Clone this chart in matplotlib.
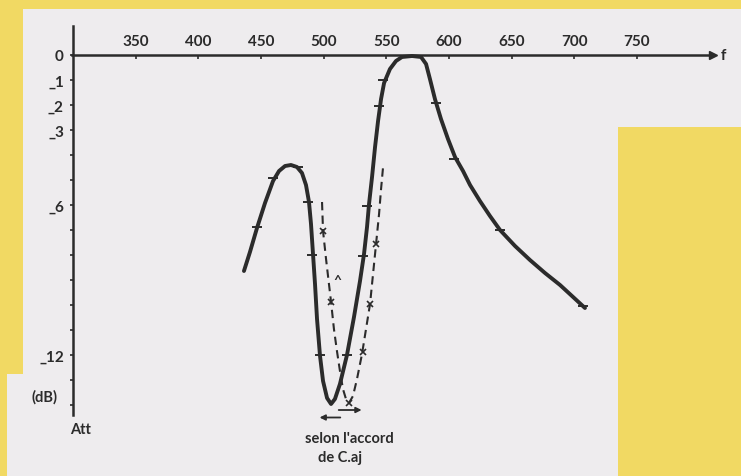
import numpy as np
import matplotlib
matplotlib.use("Agg")
import matplotlib.pyplot as plt
from matplotlib.patches import Polygon

plt.rcParams['font.family'] = ['Lato', 'DejaVu Sans']
plt.rcParams['font.weight'] = 'bold'

# solid curve (frequency, attenuation in dB)
freq_solid = [436.4, 441.2, 446.8, 453.2, 459.6, 464.4, 469.2, 473.9, 478.7, 482.7,
              485.9, 488.3, 489.9, 491.5, 493.1, 494.7, 497.1, 499.5, 502.7, 505.9,
              509.0, 513.0, 518.6, 524.2, 529.0, 532.2, 534.6, 536.2, 538.6, 541.0,
              543.4, 545.8, 548.2, 552.9, 557.7, 562.5, 570.5, 577.7, 581.7, 584.8,
              588.8, 593.6, 599.2, 604.8, 611.2, 616.8, 624.7, 632.7, 640.7, 652.7,
              664.6, 676.6, 688.6, 699.0, 708.5]
att_solid = [-8.64, -7.88, -6.92, -5.92, -5.04, -4.64, -4.44, -4.40, -4.48, -4.72,
             -5.20, -5.88, -6.76, -7.96, -9.16, -10.56, -12.04, -13.04, -13.72, -13.96,
             -13.76, -13.16, -12.00, -10.48, -9.04, -7.96, -6.88, -5.96, -4.88, -3.68,
             -2.64, -1.76, -1.12, -0.56, -0.24, -0.08, -0.04, -0.08, -0.36, -0.96,
             -1.76, -2.56, -3.36, -4.08, -4.64, -5.20, -5.84, -6.44, -7.00, -7.64,
             -8.20, -8.72, -9.20, -9.68, -10.12]
# measured points on the solid curve
freq_solid_pts = [446.8, 459.6, 479.5, 487.5, 490.7, 497.1, 518.6, 531.4, 534.6,
                  544.2, 547.4, 589.6, 604.0, 640.7, 706.9]
att_solid_pts = [-6.88, -4.92, -4.48, -5.88, -8.0, -12.0, -12.0, -8.04, -6.04,
                 -2.04, -1.0, -1.92, -4.16, -7.0, -10.04]

# dashed curve (other setting of C.aj)
freq_dash = [498.7, 499.5, 501.9, 505.9, 508.2, 510.6, 513.0, 515.4, 517.8, 520.2,
             523.4, 526.6, 530.6, 533.8, 537.0, 539.4, 541.8, 544.2, 545.8, 547.4]
att_dash = [-5.88, -7.04, -8.16, -9.88, -10.96, -11.84, -12.64, -13.36, -13.76, -13.92,
            -13.64, -12.96, -11.96, -10.96, -9.96, -8.76, -7.56, -6.36, -5.36, -4.48]
freq_dash_pts = [499.5, 505.9, 520.2, 531.4, 537.0, 541.8]
att_dash_pts = [-7.04, -9.88, -13.92, -11.88, -9.96, -7.56]

x_ticks = [350, 400, 450, 500, 550, 600, 650, 700, 750]
y_ticks = list(range(0, -15, -1))
y_labels = {0: "0", -1: "_1", -2: "_2", -3: "_3", -6: "_6", -12: "_12"}

W, H = 741, 477
ink = "#2b2b2b"
yellow = "#F1D963"
paper = "#EEECEE"

fig = plt.figure(figsize=(W / 100, H / 100), dpi=100, facecolor=yellow)
ax = fig.add_axes([0, 0, 1, 1])
ax.patch.set_visible(False)

# px -> data mapping: f=300 at x=73px, 1.2533 px per Hz; 0 dB at y=56px, 25 px per dB
ax.set_xlim(300 - 73 / 1.2533, 300 + (W - 73) / 1.2533)
ax.set_ylim(-(H - 56) / 25, 56 / 25)

# white paper sheet
sheet = [(23, 10), (741, 10), (741, 128), (618, 128), (618, 477), (7, 477), (7, 375), (23, 375)]
ax.add_patch(Polygon([(x / W, 1 - y / H) for x, y in sheet], closed=True,
                     transform=ax.transAxes, facecolor=paper, edgecolor="none",
                     zorder=0, clip_on=False))

# axes lines
for s in ["bottom", "right"]:
    ax.spines[s].set_visible(False)
ax.spines["top"].set_position(("data", 0))
ax.spines["top"].set_bounds(299, 808)
ax.spines["left"].set_position(("data", 300))
ax.spines["left"].set_bounds(-14.4, 1.15)
for s in ["top", "left"]:
    ax.spines[s].set_color(ink)
    ax.spines[s].set_linewidth(1.8)
ax.plot([811], [0], marker=">", ms=6, color=ink, clip_on=False)

ax.xaxis.tick_top()
ax.set_xticks(x_ticks)
ax.set_xticklabels([str(v) for v in x_ticks])
ax.tick_params(axis="x", direction="in", length=3, width=1.2, pad=5,
               labelsize=11, colors=ink)
ax.set_yticks(y_ticks)
ax.set_yticklabels([y_labels.get(v, "") for v in y_ticks])
ax.tick_params(axis="y", direction="out", length=2.5, width=1.2, pad=4,
               labelsize=11, colors=ink)

# curves
ax.plot(freq_solid, att_solid, color=ink, lw=2.8, solid_capstyle="round",
        solid_joinstyle="round", zorder=3)
ax.plot(freq_solid_pts, att_solid_pts, ls="none", marker="_", ms=7, mew=1.4,
        color=ink, zorder=4)
ax.plot(freq_dash, att_dash, color=ink, lw=1.5, ls=(0, (4, 2.5)), zorder=3)
ax.plot(freq_dash_pts, att_dash_pts, ls="none", marker="x", ms=4, mew=1.2,
        color=ink, zorder=4)
# small hook mark between the branches
ax.text(510.6, -9.0, "^", fontsize=10, color=ink, ha="center", va="center")

# shift arrows
ax.annotate("", xy=(494.5, -14.5), xytext=(515.5, -14.5),
            arrowprops=dict(arrowstyle="-|>", color=ink, lw=1.3, mutation_scale=8))
ax.annotate("", xy=(532.5, -14.2), xytext=(509.8, -14.2),
            arrowprops=dict(arrowstyle="-|>", color=ink, lw=1.3, mutation_scale=8))

ax.text(305 / W, 1 - 439 / H, "selon l'accord", transform=ax.transAxes,
        fontsize=10.5, color=ink, ha="left", va="center")
ax.text(318 / W, 1 - 458 / H, "de C.aj", transform=ax.transAxes,
        fontsize=10.5, color=ink, ha="left", va="center")
ax.text(45 / W, 1 - 397 / H, "(dB)", transform=ax.transAxes,
        fontsize=10.5, color=ink, ha="center", va="center")
ax.text(81 / W, 1 - 430 / H, "Att", transform=ax.transAxes,
        fontsize=10.5, color=ink, ha="center", va="center")
ax.text(723 / W, 1 - 56 / H, "f", transform=ax.transAxes,
        fontsize=11, color=ink, ha="center", va="center")

fig.savefig("out.png", dpi=100, facecolor=yellow)
